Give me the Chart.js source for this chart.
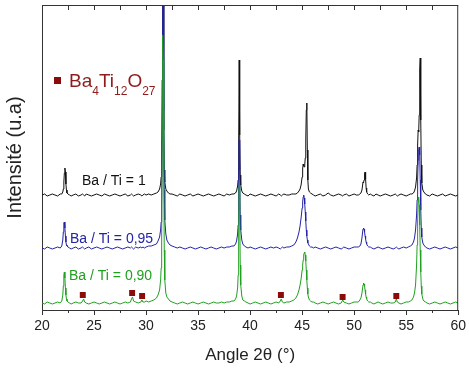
<!DOCTYPE html>
<html>
<head>
<meta charset="utf-8">
<script src="https://cdn.jsdelivr.net/npm/chart.js@4.4.1/dist/chart.umd.min.js"></script>
<style>
  html, body { margin: 0; padding: 0; background: #fff; }
  #xrd { display: block; }
</style>
</head>
<body>
<canvas id="xrd" width="469" height="369"></canvas>
<script>
// 2θ grid shared by the three patterns (denser around the reflections)
const angles = [
  20, 20.25, 20.5, 20.75, 21, 21.25, 21.5, 21.75,
  21.9, 22, 22.05, 22.1, 22.15, 22.2, 22.25, 22.3, 22.35, 22.4, 22.5, 22.65,
  22.8, 23, 23.25, 23.5, 23.75, 23.9, 24, 24.1, 24.25, 24.5, 24.75, 25, 25.25, 25.5, 25.75, 26, 26.25, 26.5, 26.75, 27,
  27.25, 27.5, 27.75, 28, 28.25, 28.5, 28.6, 28.7, 28.8, 29, 29.25, 29.5, 29.6, 29.7, 29.85, 30, 30.25, 30.5, 30.75, 31,
  31.15, 31.3, 31.4, 31.45, 31.5, 31.55, 31.6, 31.65, 31.7, 31.75, 31.8, 31.9, 32, 32.15, 32.3,
  32.5, 32.75, 33, 33.25, 33.5, 33.75, 34, 34.25, 34.5, 34.75, 35, 35.25,
  35.5, 35.75, 36, 36.25, 36.5, 36.75, 37, 37.25, 37.5, 37.75, 38, 38.25,
  38.45, 38.6, 38.7, 38.8, 38.85, 38.9, 38.95, 39, 39.05, 39.1, 39.2, 39.3, 39.45,
  39.6, 39.8, 40, 40.25, 40.5, 40.75, 41, 41.25, 41.5, 41.75, 42,
  42.25, 42.5, 42.75, 42.9, 43, 43.1, 43.25, 43.5, 43.75, 44, 44.2,
  44.4, 44.55, 44.7, 44.8, 44.9, 45, 45.05, 45.1, 45.15, 45.2, 45.25,
  45.3, 45.35, 45.4, 45.45, 45.5, 45.55, 45.6, 45.7, 45.8, 45.95, 46.1,
  46.25, 46.5, 46.75, 47, 47.25, 47.5, 47.75, 48, 48.25,
  48.5, 48.75, 48.9, 49, 49.25, 49.5, 49.75, 50, 50.2,
  50.4, 50.55, 50.65, 50.75, 50.8, 50.85, 50.9, 50.95,
  51, 51.05, 51.1, 51.15, 51.2, 51.3, 51.4, 51.55,
  51.7, 51.9, 52.1, 52.3, 52.5, 52.75, 53, 53.25, 53.5, 53.75,
  53.95, 54.05, 54.15, 54.3, 54.5, 54.75, 55, 55.2, 55.4,
  55.55, 55.7, 55.8, 55.9, 56, 56.05, 56.1, 56.15, 56.2, 56.25,
  56.3, 56.35, 56.4, 56.45, 56.5, 56.6, 56.7, 56.85, 57,
  57.25, 57.5, 57.75, 58, 58.25, 58.5, 58.75, 59, 59.25, 59.5, 59.75, 60
];

// Ba / Ti = 1 (black, top pattern)
const ratio100 = [
  115, 116, 114, 115, 116, 115, 114, 116,
  116, 118, 121, 128, 137, 142, 138, 126, 120, 117, 116, 115,
  114, 115, 116, 114, 115, 116, 115, 114, 116, 115, 114, 115, 116, 115, 114, 116, 115, 114, 115, 116,
  115, 114, 115, 116, 114, 115, 116, 115, 114, 115, 116, 115, 114, 115, 116, 115, 116, 115, 116, 117,
  118, 121, 126, 133, 150, 230, 420, 330, 180, 140, 128, 121, 119, 117, 116,
  116, 115, 114, 116, 115, 114, 115, 116, 114, 115, 116, 115,
  114, 115, 116, 115, 114, 115, 116, 115, 114, 116, 115, 116,
  116, 117, 119, 124, 130, 165, 250, 175, 135, 125, 119, 117, 116,
  115, 114, 116, 115, 114, 115, 116, 115, 114, 115, 116,
  115, 114, 116, 115, 114, 115, 116, 115, 115, 116, 116,
  116, 117, 119, 121, 125, 133, 141, 146, 144, 143, 145,
  152, 170, 200, 207, 160, 130, 121, 118, 117, 116, 115,
  114, 115, 116, 114, 115, 117, 115, 114, 115,
  116, 115, 114, 115, 116, 114, 115, 116, 115,
  115, 116, 117, 120, 124, 128, 127, 130,
  136, 138, 131, 122, 118, 116, 115, 116,
  115, 114, 116, 115, 114, 115, 116, 115, 114, 115,
  116, 115, 114, 115, 116, 115, 114, 115, 116,
  116, 117, 119, 123, 132, 145, 165, 180, 178, 195,
  240, 252, 190, 145, 127, 120, 118, 116, 115,
  114, 116, 115, 114, 115, 116, 114, 115, 116, 115, 114, 115
];

// Ba / Ti = 0,95 (blue, middle pattern)
const ratio095 = [
  62, 61, 63, 62, 61, 62, 63, 62,
  64, 70, 78, 87, 88, 82, 74, 68, 65, 64, 63, 62,
  61, 62, 63, 61, 62, 63, 62, 61, 62, 63, 61, 62, 63, 62, 61, 62, 63, 62, 61, 62,
  63, 62, 61, 62, 63, 62, 63, 62, 61, 63, 62, 63, 62, 63, 62, 63, 64, 64, 65, 66,
  69, 73, 80, 88, 105, 170, 360, 330, 200, 120, 90, 76, 70, 67, 65,
  64, 63, 62, 63, 62, 61, 62, 63, 62, 61, 62, 63,
  62, 61, 62, 63, 62, 61, 62, 63, 62, 63, 63, 64,
  64, 66, 69, 76, 85, 120, 170, 140, 95, 80, 70, 66, 64,
  63, 62, 63, 62, 61, 62, 63, 62, 61, 62, 63,
  62, 63, 62, 61, 62, 63, 62, 63, 63, 64, 65,
  68, 72, 78, 84, 92, 102, 108, 113, 115, 112, 106,
  98, 89, 80, 74, 70, 67, 66, 64, 63, 63, 62,
  63, 62, 61, 62, 63, 62, 61, 62, 63,
  62, 61, 62, 63, 62, 61, 62, 63, 63,
  63, 64, 66, 72, 77, 81, 82, 81,
  78, 74, 71, 68, 66, 64, 63, 63,
  62, 61, 62, 63, 62, 61, 62, 63, 62, 61,
  62, 63, 62, 61, 62, 63, 62, 63, 64,
  65, 68, 72, 80, 95, 110, 130, 150, 160, 163,
  155, 130, 100, 82, 73, 67, 65, 63, 62,
  61, 62, 63, 62, 61, 62, 63, 62, 61, 62, 63, 62
];

// Ba / Ti = 0,90 (green, bottom pattern)
const ratio090 = [
  7, 6, 8, 7, 6, 7, 8, 7,
  9, 15, 24, 35, 38, 32, 22, 15, 11, 9, 8, 7,
  6, 7, 8, 7, 7, 9, 11, 8, 7, 6, 7, 8, 7, 6, 7, 8, 7, 6, 7, 8,
  7, 6, 7, 8, 7, 8, 11, 13, 9, 8, 7, 8, 10, 8, 8, 9, 8, 9, 10, 12,
  15, 20, 30, 42, 70, 170, 275, 250, 140, 60, 30, 17, 13, 11, 9,
  8, 7, 6, 7, 8, 7, 6, 7, 8, 7, 6, 7,
  8, 7, 6, 7, 8, 7, 7, 8, 7, 8, 8, 9,
  9, 11, 14, 22, 35, 75, 125, 100, 45, 25, 14, 10, 9,
  8, 7, 6, 7, 8, 7, 6, 7, 8, 7, 6,
  7, 8, 7, 9, 11, 8, 7, 8, 8, 9, 10,
  12, 15, 20, 25, 31, 40, 45, 50, 55, 57, 58,
  55, 49, 40, 30, 22, 16, 13, 10, 9, 8, 8,
  7, 6, 7, 8, 7, 6, 7, 8, 7,
  6, 7, 10, 8, 7, 6, 7, 8, 8,
  8, 10, 12, 17, 21, 25, 27, 26,
  24, 20, 16, 13, 11, 9, 8, 8,
  7, 6, 7, 8, 7, 6, 7, 8, 7, 7,
  8, 11, 8, 7, 6, 7, 8, 8, 9,
  10, 13, 17, 25, 45, 65, 88, 108, 113, 105,
  85, 60, 38, 24, 16, 11, 9, 8, 7,
  6, 7, 8, 7, 6, 7, 8, 7, 6, 7, 8, 7
];

// Ba4Ti12O27 reflections marked on the bottom pattern
const impurityAngles = [23.92, 28.66, 29.62, 42.96, 48.89, 54.05];
const impurityLevels = [15, 17, 14, 15, 13, 14];

const seriesLabels = ["Ba / Ti = 1", "Ba / Ti = 0,95", "Ba / Ti = 0,90"];
const minorTicks = [22.5, 27.5, 32.5, 37.5, 42.5, 47.5, 52.5, 57.5];
const topTicks = [22.5, 25, 27.5, 30, 32.5, 35, 37.5, 40, 42.5, 45, 47.5, 50, 52.5, 55, 57.5];

const FONT = "'Liberation Sans', Arial, sans-serif";
const COLORS = {
  black: "#111111",
  blue: "#2323a6",
  green: "#20a020",
  marker: "#8b0a0a",
  legend: "#8e1c1c",
  axis: "#333333",
};

function toPoints(ys) {
  return angles.map((a, i) => ({ x: a, y: ys[i] }));
}

const frame = {
  id: "frame",
  afterDraw(chart) {
    const { ctx, chartArea: a, scales } = chart;
    const x = scales.x;
    ctx.save();
    ctx.strokeStyle = COLORS.axis;
    ctx.lineWidth = 1;
    ctx.beginPath();
    ctx.moveTo(a.left, a.top + 0.5);
    ctx.lineTo(a.right, a.top + 0.5);
    ctx.moveTo(a.right - 0.5, a.top);
    ctx.lineTo(a.right - 0.5, a.bottom);
    minorTicks.forEach((v) => {
      const px = Math.round(x.getPixelForValue(v)) + 0.5;
      ctx.moveTo(px, a.bottom);
      ctx.lineTo(px, a.bottom + 3);
    });
    topTicks.forEach((v) => {
      const px = Math.round(x.getPixelForValue(v)) + 0.5;
      ctx.moveTo(px, a.top);
      ctx.lineTo(px, a.top + 5);
    });
    ctx.stroke();
    ctx.restore();
  },
};

const annotations = {
  id: "annotations",
  afterDatasetsDraw(chart) {
    const { ctx } = chart;
    ctx.save();
    ctx.textAlign = "left";
    ctx.textBaseline = "middle";
    ctx.font = "14px " + FONT;
    ctx.fillStyle = COLORS.black;
    ctx.fillText(seriesLabels[0], 82, 181);
    ctx.fillStyle = COLORS.blue;
    ctx.fillText(seriesLabels[1], 70, 239);
    ctx.fillStyle = COLORS.green;
    ctx.fillText(seriesLabels[2], 69, 276);

    // phase legend: ■ Ba4Ti12O27
    ctx.fillStyle = COLORS.marker;
    ctx.fillRect(54, 77, 7, 7);
    ctx.fillStyle = COLORS.legend;
    ctx.textBaseline = "alphabetic";
    const parts = [["Ba", false], ["4", true], ["Ti", false], ["12", true], ["O", false], ["27", true]];
    let tx = 69;
    parts.forEach(([t, sub]) => {
      ctx.font = (sub ? "12px " : "19px ") + FONT;
      ctx.fillText(t, tx, sub ? 95 : 87);
      tx += ctx.measureText(t).width;
    });
    ctx.restore();
  },
};

Chart.defaults.font.family = FONT;
Chart.defaults.color = "#222";

new Chart(document.getElementById("xrd"), {
  type: "line",
  data: {
    datasets: [
      {
        type: "scatter",
        label: "Ba4Ti12O27",
        data: impurityAngles.map((a, i) => ({ x: a, y: impurityLevels[i] })),
        pointStyle: "rect",
        pointRadius: 4.2,
        backgroundColor: COLORS.marker,
        borderColor: COLORS.marker,
        borderWidth: 0,
        order: 0,
      },
      { label: seriesLabels[2], data: toPoints(ratio090), borderColor: COLORS.green, order: 1 },
      { label: seriesLabels[1], data: toPoints(ratio095), borderColor: COLORS.blue, order: 2 },
      { label: seriesLabels[0], data: toPoints(ratio100), borderColor: COLORS.black, order: 3 },
    ],
  },
  options: {
    responsive: false,
    animation: false,
    devicePixelRatio: 1,
    layout: { padding: { top: 5, right: 10, left: 0, bottom: 0 } },
    elements: {
      line: { borderWidth: 1, tension: 0, fill: false },
      point: { radius: 0 },
    },
    plugins: { legend: { display: false }, tooltip: { enabled: false } },
    scales: {
      x: {
        type: "linear",
        min: 20,
        max: 60,
        ticks: { stepSize: 5, font: { size: 14 }, color: "#222", padding: 3 },
        grid: { drawOnChartArea: false, tickLength: 5, color: COLORS.axis },
        border: { color: COLORS.axis },
        title: { display: true, text: "Angle 2θ (°)", font: { size: 17 }, color: "#222", padding: { top: 0, bottom: 3 } },
        afterFit(scale) { scale.height = 59; },
      },
      y: {
        min: 0,
        max: 305,
        ticks: { display: false },
        grid: { display: false },
        border: { color: COLORS.axis },
        title: { display: true, text: "Intensité (u.a)", font: { size: 20 }, color: "#222", padding: { top: 3, bottom: 0 } },
        afterFit(scale) { scale.width = 42; },
      },
    },
  },
  plugins: [frame, annotations],
});
</script>
</body>
</html>
